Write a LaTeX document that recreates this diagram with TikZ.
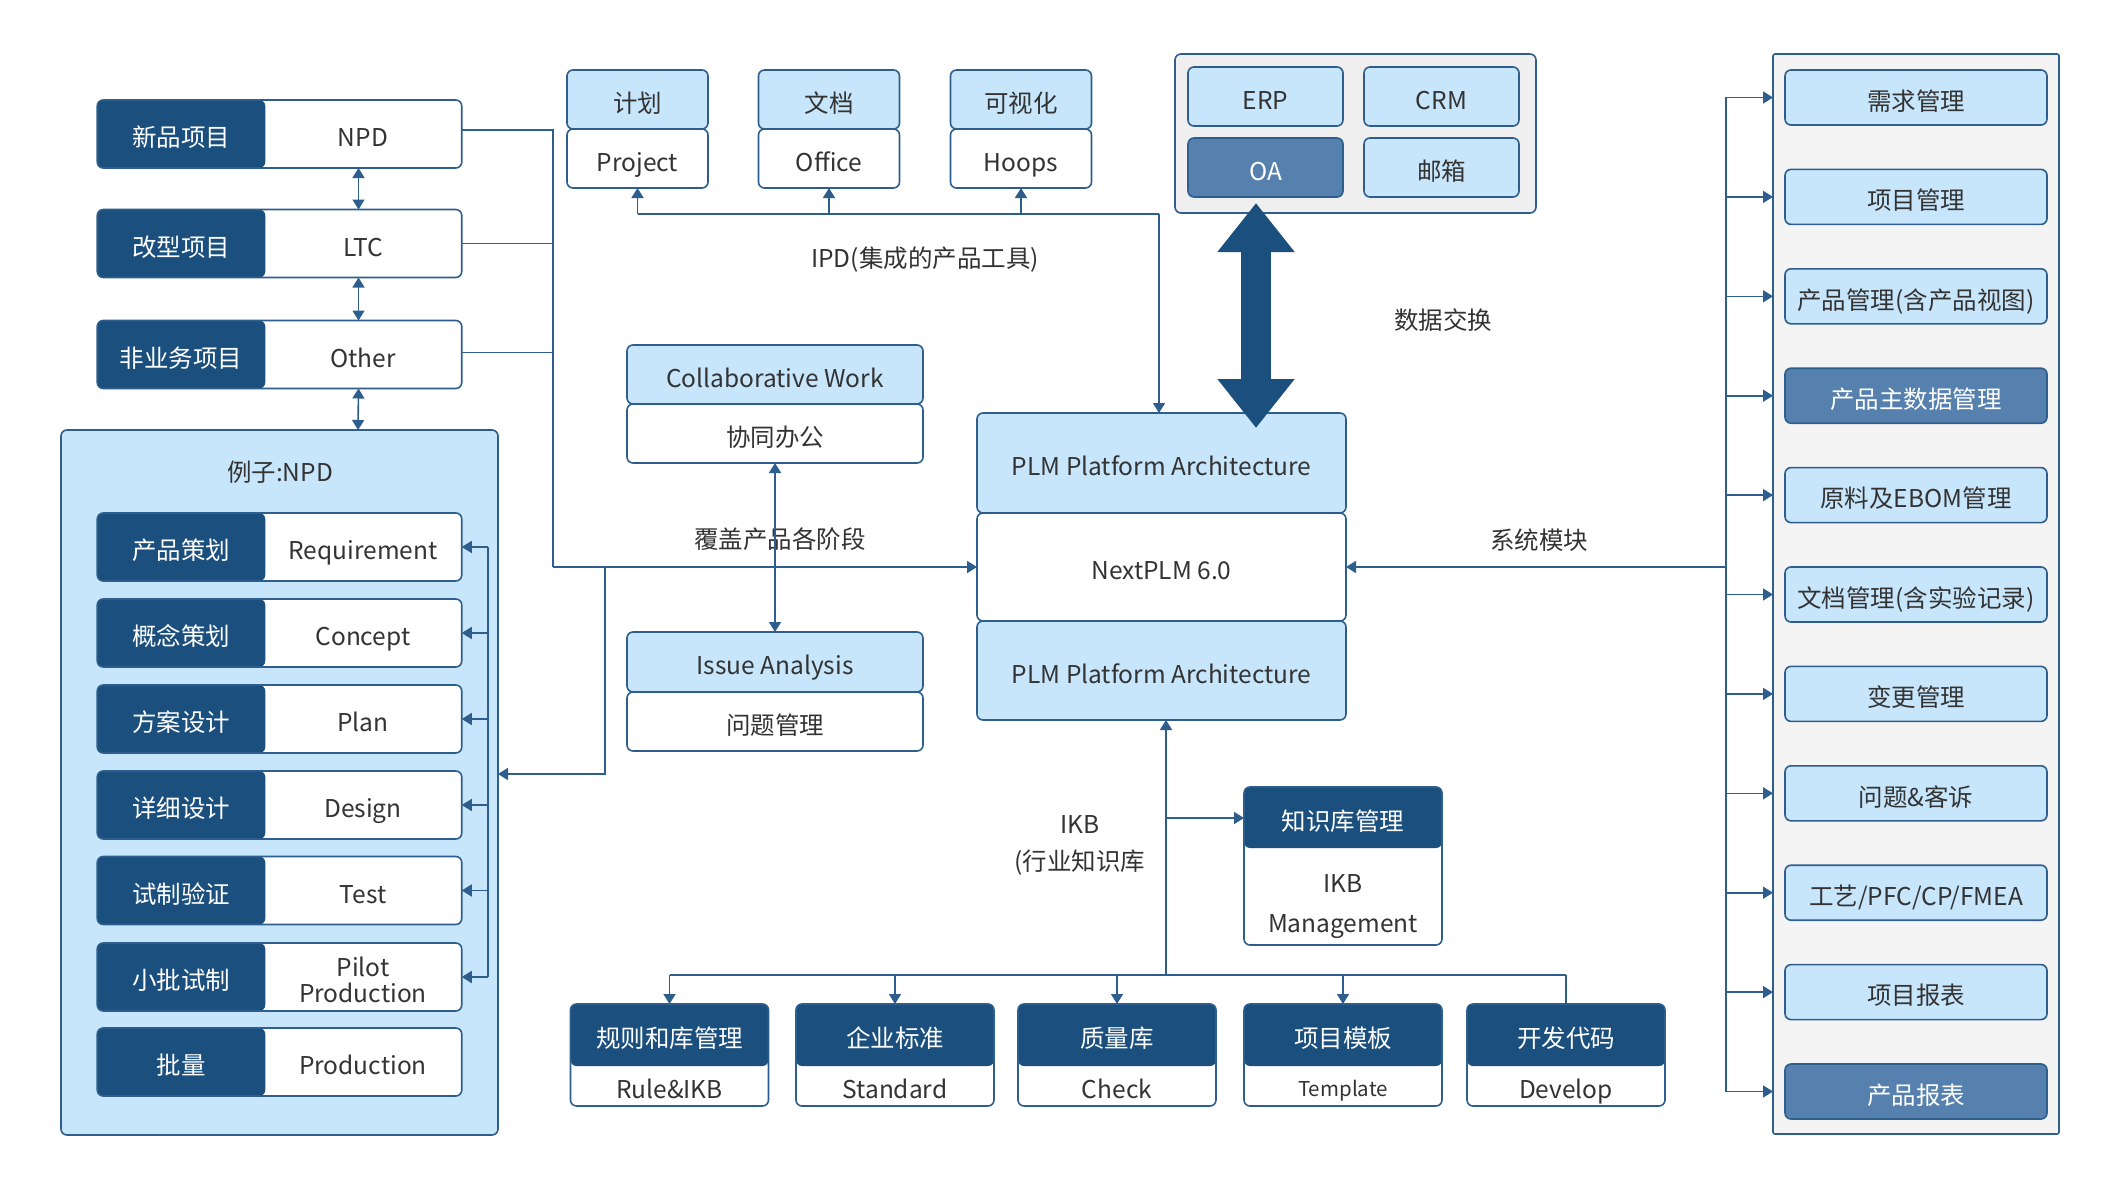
\documentclass[tikz,border=0pt]{standalone}
\usepackage{fontspec}
\setmainfont{Noto Sans CJK SC}
\usetikzlibrary{arrows.meta,calc}
\definecolor{dk}{HTML}{1B4F7E}
\definecolor{ln}{HTML}{2D5E8D}
\definecolor{lt}{HTML}{C7E6FB}
\definecolor{md}{HTML}{5680AD}
\definecolor{gy}{HTML}{EFEFEF}
\definecolor{gyb}{HTML}{F4F4F4}
\definecolor{tx}{HTML}{333333}
\newcommand\hpairbox[4]{%
  \node[hpair] (#1) at (279.5,#2) {};
  \node[tt, text=white] (#1c) at (181,#2) {#3};
  \node[tt, text=tx] (#1e) at (363,#2) {#4};
}
\newcommand\vpairbox[4]{%
  \node[vpair] (#1) at (#2,1055) {};
  \node[tt, text=white] (#1c) at (#2,1035) {#3};
  \node[tt, text=tx] (#1e) at (#2,1086) {#4};
}
\begin{document}
\begin{tikzpicture}[x=1pt,y=-1pt,
  font=\fontsize{24.5}{29}\selectfont,
  tt/.style={text height=25.6pt, text depth=0pt, inner sep=0pt},
  base/.style={draw=ln, line width=1.6pt, rounded corners=6pt, inner sep=0pt, outer sep=0pt, tt},
  lbox/.style={base, fill=lt, text=tx},
  wbox/.style={base, fill=white, text=tx},
  dbox/.style={base, fill=dk, text=white},
  mbox/.style={base, fill=md, text=white},
  hpair/.style={wbox, minimum width=364.5pt, minimum height=68pt,
    path picture={\fill[dk] (path picture bounding box.north west) rectangle ([xshift=168pt]path picture bounding box.south west);}},
  vpair/.style={wbox, minimum width=198pt, minimum height=102pt,
    path picture={\fill[dk] (path picture bounding box.north west) rectangle ([yshift=-62pt]path picture bounding box.north east);}},
  tool/.style={minimum width=141pt, minimum height=59pt},
  sys/.style={minimum width=155pt, minimum height=59pt},
  rmod/.style={minimum width=262pt, minimum height=55pt},
  conn/.style={draw=ln, line width=1.6pt},
  arr/.style={conn, -{Triangle[length=10pt,width=12pt]}},
  darr/.style={conn, {Triangle[length=10pt,width=12pt]}-{Triangle[length=10pt,width=12pt]}},
  lab/.style={text=tx}
]
\useasboundingbox (0,0) rectangle (2120,1188);
\fill[white] (0,0) rectangle (2120,1188);

% ---------- containers ----------
\node[lbox, minimum width=437pt, minimum height=705pt] (ex) at (279.5,782.5) {};
\node[lab] (exT) at (280,472) {例子:NPD};
\node[base, fill=gy, minimum width=361pt, minimum height=159pt] (sysC) at (1355.5,133.5) {};
\node[base, rounded corners=2pt, fill=gyb, minimum width=286pt, minimum height=1080pt] (rp) at (1916,594) {};

% ---------- left project boxes ----------
\hpairbox{pNPD}{134}{新品项目}{NPD}
\hpairbox{pLTC}{243.5}{改型项目}{LTC}
\hpairbox{pOth}{354.5}{非业务项目}{Other}

% ---------- phases ----------
\hpairbox{ph1}{547}{产品策划}{Requirement}
\hpairbox{ph2}{633}{概念策划}{Concept}
\hpairbox{ph3}{719}{方案设计}{Plan}
\hpairbox{ph4}{805}{详细设计}{Design}
\hpairbox{ph5}{890.5}{试制验证}{Test}
\hpairbox{ph6}{977}{小批试制}{}
\node[text=tx, align=center, font=\fontsize{24.5}{26}\selectfont] (ph6e) at (363,980) {Pilot\\Production};
\hpairbox{ph7}{1062}{批量}{Production}

% ---------- tools ----------
\node[lbox, tool] (t1a) at (637.5,99.5) {计划};
\node[wbox, tool] (t1b) at (637.5,158.5) {Project};
\node[lbox, tool] (t2a) at (829,99.5) {文档};
\node[wbox, tool] (t2b) at (829,158.5) {Office};
\node[lbox, tool] (t3a) at (1021,99.5) {可视化};
\node[wbox, tool] (t3b) at (1021,158.5) {Hoops};
\node[lab] (ipdT) at (925,260) {IPD(集成的产品工具)};

% ---------- external systems ----------
\node[lbox, sys] (erp) at (1265.5,96.5) {ERP};
\node[lbox, sys] (crm) at (1441.5,96.5) {CRM};
\node[mbox, sys] (oa) at (1265.5,167.5) {OA};
\node[lbox, sys] (mail) at (1441.5,167.5) {邮箱};
\node[lab] (dxT) at (1443,320) {数据交换};

% ---------- collaboration / issue ----------
\node[lbox, minimum width=296pt, minimum height=59pt] (cw1) at (775,374.5) {Collaborative Work};
\node[wbox, minimum width=296pt, minimum height=59pt] (cw2) at (775,433.5) {协同办公};
\node[lbox, minimum width=296pt, minimum height=60pt] (ia1) at (775,662) {Issue Analysis};
\node[wbox, minimum width=296pt, minimum height=59pt] (ia2) at (775,721.5) {问题管理};
\node[lab] (covT) at (780,539) {覆盖产品各阶段};

% ---------- PLM core ----------
\node[lbox, minimum width=369pt, minimum height=100pt] (plm1) at (1161.5,463) {PLM Platform Architecture};
\node[wbox, minimum width=369pt, minimum height=108pt] (plm2) at (1161.5,567) {NextPLM 6.0};
\node[lbox, minimum width=369pt, minimum height=99pt] (plm3) at (1161.5,670.5) {PLM Platform Architecture};

% ---------- right modules ----------
\node[lbox, rmod] (r0) at (1916,97.5) {需求管理};
\node[lbox, rmod] (r1) at (1916,196.9) {项目管理};
\node[lbox, rmod] (r2) at (1916,296.3) {产品管理(含产品视图)};
\node[mbox, rmod] (r3) at (1916,395.7) {产品主数据管理};
\node[lbox, rmod] (r4) at (1916,495.1) {原料及EBOM管理};
\node[lbox, rmod] (r5) at (1916,594.5) {文档管理(含实验记录)};
\node[lbox, rmod] (r6) at (1916,693.9) {变更管理};
\node[lbox, rmod] (r7) at (1916,793.3) {问题\&客诉};
\node[lbox, rmod] (r8) at (1916,892.7) {工艺/PFC/CP/FMEA};
\node[lbox, rmod] (r9) at (1916,992.1) {项目报表};
\node[mbox, rmod] (r10) at (1916,1091.5) {产品报表};
\node[lab] (sysT) at (1539,540) {系统模块};

% ---------- IKB ----------
\node[wbox, minimum width=198pt, minimum height=158pt,
  path picture={\fill[dk] (path picture bounding box.north west) rectangle ([yshift=-61pt]path picture bounding box.north east);}] (kb) at (1343,866) {};
\node[tt, text=white] (kbT) at (1343,818) {知识库管理};
\node[text=tx, align=center, font=\fontsize{24.5}{40}\selectfont] (kbE) at (1343,907) {IKB\\Management};
\node[lab, align=center, font=\fontsize{24.5}{37}\selectfont] (ikbT) at (1080,845) {IKB\\(行业知识库};

% ---------- bottom libraries ----------
\vpairbox{b1}{669.5}{规则和库管理}{Rule\&IKB}
\vpairbox{b2}{895}{企业标准}{Standard}
\vpairbox{b3}{1117}{质量库}{Check}
\vpairbox{b4}{1343}{项目模板}{}
\node[text=tx, font=\fontsize{20.5}{24}\selectfont] (b4e2) at (1343,1091) {Template};
\vpairbox{b5}{1566}{开发代码}{Develop}

% ---------- connectors ----------
\coordinate (jL) at (553,567);
\coordinate (jB) at (605,567);
\draw[conn] ([yshift=4pt]pNPD.east) -- ([yshift=4pt]pNPD.east -| jL) -- (jL);
\draw[conn] (pLTC.east) -- (pLTC.east -| jL);
\draw[conn] ([yshift=2pt]pOth.east) -- ([yshift=2pt]pOth.east -| jL);
\draw[arr] (jL) -- (plm2.west);
\draw[arr] (jB) |- (ex.east |- 0,774);

\draw[darr] ([xshift=79pt]pNPD.south) -- ([xshift=79pt]pLTC.north);
\draw[darr] ([xshift=79pt]pLTC.south) -- ([xshift=79pt]pOth.north);
\draw[darr] ([xshift=79pt]pOth.south) -- ([xshift=78.5pt]ex.north);

\coordinate (pb) at (488,0);
\draw[conn] (ph1.east -| pb) -- (ph6.east -| pb);
\foreach \i in {1,...,6} {\draw[arr] (ph\i.east -| pb) -- (ph\i.east);}

\coordinate (ipdR) at (1159,214);
\draw[conn] (ipdR) -- (ipdR -| t1b.south);
\draw[arr] (ipdR -| t1b.south) -- (t1b.south);
\draw[arr] (ipdR -| t2b.south) -- (t2b.south);
\draw[arr] (ipdR -| t3b.south) -- (t3b.south);
\draw[arr] (ipdR) -- (plm1.north -| ipdR);

\coordinate (bA) at (1256,203);
\coordinate (bB) at (1256,428);
\draw[dk, line width=30pt, {Triangle[length=49pt,width=74pt]}-{Triangle[length=49pt,width=74pt]}] (bA) -- (bB);

\draw[darr] (cw2.south) -- (ia1.north);

\coordinate (rj) at (1726,567);
\draw[arr] (rj) -- (plm2.east);
\draw[conn] (r0.west -| rj) -- (r10.west -| rj);
\foreach \i in {0,...,10} {\draw[arr] (r\i.west -| rj) -- (r\i.west -| rp.west);}

\coordinate (bj) at (1166,975);
\coordinate (kj) at (1166,818);
\draw[arr] (bj) -- (plm3.south -| bj);
\draw[arr] (kj) -- (kj -| kb.west);
\draw[conn] (b1.north |- bj) -- (b5.north |- bj);
\foreach \i in {1,...,4} {\draw[arr] (b\i.north |- bj) -- (b\i.north);}
\draw[conn] (b5.north |- bj) -- (b5.north);
\end{tikzpicture}
\end{document}
